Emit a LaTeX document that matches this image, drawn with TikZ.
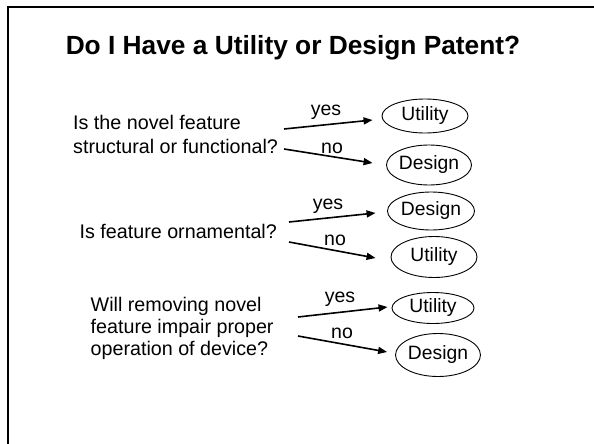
\documentclass[tikz,border=0pt]{standalone}
\usepackage{fontspec}
\setmainfont{Liberation Sans}
\usetikzlibrary{arrows.meta,shapes.geometric}
\begin{document}
\begin{tikzpicture}[x=1pt,y=-1pt,
  answer/.style={draw, ellipse, line width=0.9pt, inner sep=0pt,
    font=\fontsize{19.3}{22}\selectfont},
  question/.style={anchor=north west, inner sep=0pt, align=left},
  branch/.style={line width=1.6pt, -{Triangle[length=9pt,width=7pt]}},
  choice/.style={anchor=base, inner sep=0pt, font=\fontsize{19.5}{22}\selectfont}]

\useasboundingbox (0,0) rectangle (594,444);

% slide frame (top and left edges)
\draw[line width=2pt] (594,7.5) -- (7.5,7.5) -- (7.5,444);

% title
\node[anchor=base, inner sep=0pt, font=\fontsize{26.3}{30}\selectfont\bfseries]
  (title) at (293,54.5) {Do I Have a Utility or Design Patent?};

% questions
\node[question, font=\fontsize{19.7}{24}\selectfont] (q1) at (73,114.8)
  {Is the novel feature\\structural or functional?};
\node[question, font=\fontsize{19.7}{23}\selectfont] (q2) at (79.5,223.8)
  {Is feature ornamental?};
\node[question, font=\fontsize{19.7}{22}\selectfont] (q3) at (90.5,296.8)
  {Will removing novel\\feature impair proper\\operation of device?};

% answers
\node[answer, minimum width=86pt, minimum height=34pt] (u1) at (425,116) {Utility};
\node[answer, minimum width=85pt, minimum height=40pt] (d1) at (429,165) {Design};
\node[answer, minimum width=87pt, minimum height=38pt] (d2) at (431,211) {Design};
\node[answer, minimum width=86pt, minimum height=41pt] (u2) at (434,257) {Utility};
\node[answer, minimum width=82pt, minimum height=31pt] (u3) at (433,308) {Utility};
\node[answer, minimum width=84pt, minimum height=43pt] (d3) at (438,355) {Design};

% arrow tails
\coordinate (s1y) at (284,129);
\coordinate (s1n) at (284,149);
\coordinate (s2y) at (289,222);
\coordinate (s2n) at (289,242);
\coordinate (s3y) at (298,317);
\coordinate (s3n) at (298,336);

% branches
\draw[branch] (s1y) -- ([shift={(-9,4)}]u1.west);
\draw[branch] (s1n) -- ([shift={(-13.5,-2)}]d1.west);
\draw[branch] (s2y) -- ([shift={(-11.5,2)}]d2.west);
\draw[branch] (s2n) -- ([shift={(-15,1)}]u2.west);
\draw[branch] (s3y) -- ([shift={(-4,-1)}]u3.west);
\draw[branch] (s3n) -- ([shift={(-8,-3)}]d3.west);

% branch labels
\node[choice] (l1y) at (326,115) {yes};
\node[choice] (l1n) at (332,153) {no};
\node[choice] (l2y) at (328,209) {yes};
\node[choice] (l2n) at (335,245) {no};
\node[choice] (l3y) at (340,302) {yes};
\node[choice] (l3n) at (342,338) {no};
\end{tikzpicture}
\end{document}
